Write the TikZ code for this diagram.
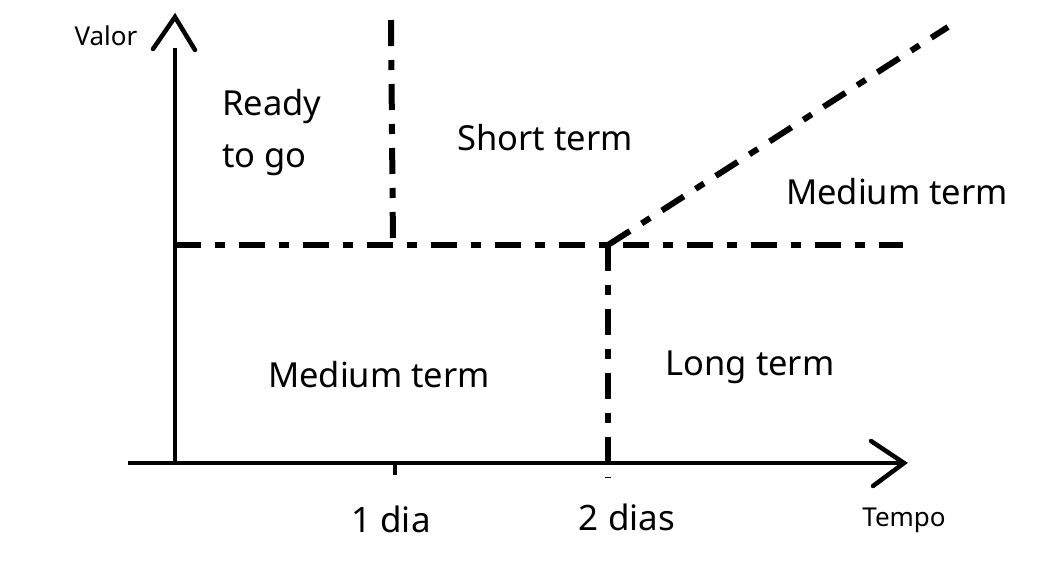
\documentclass[tikz,border=0pt]{standalone}
\usepackage{fontspec}
\setmainfont{Noto Sans}
\usepackage{tikz}
\usetikzlibrary{positioning,calc}
\tikzset{
  % akser
  akse/.style={draw=black,line width=4.5pt},
  pil/.style={draw=black,line width=4.5pt,line cap=round,line join=miter},
  % grenser
  grense/.style={draw=black,line width=6pt,dash pattern=on 26pt off 14pt on 10pt off 14pt},
  felt/.style={font=\fontsize{34.5}{52}\selectfont,inner sep=0pt,align=left},
  merke/.style={font=\fontsize{26}{30}\selectfont,inner sep=0pt},
  tall/.style={font=\fontsize{35}{40}\selectfont,inner sep=0pt},
}
\begin{document}
\begin{tikzpicture}[x=1pt,y=-1pt]
  \useasboundingbox (0,0) rectangle (1040,568);
  % akser
  \coordinate (o)  at (175,463);
  \coordinate (yt) at (175,48);
  \coordinate (x0) at (128,463);
  \coordinate (xt) at (903,463);
  \draw[akse] (o) -- (yt);
  \draw[akse] (x0) -- (xt);
  \draw[pil] (153,49) -- (175,17) -- (195,50);
  \draw[pil] (871,441) -- (904,463) -- (873,486);
  \coordinate (d1) at (395,463);
  \draw[akse] (d1) -- ++(0,12);
  % grenser
  \coordinate (h0) at (175,245);
  \coordinate (h1) at (903,245);
  \coordinate (k)  at (608,245);
  \coordinate (v1) at (391,20);
  \coordinate (v1b) at (393,245);
  \coordinate (v2) at (608,478);
  \coordinate (sk) at (948,27);
  \draw[grense] (h0) -- (h1);
  \draw[grense] (v1) -- (v1b);
  \draw[grense] (k) -- (v2);
  \draw[grense] (k) -- (sk);
  % tekst
  \node[felt,anchor=north west] (ready) at (222,89) {Ready\\to go};
  \node[felt] (short) at (545,138) {Short term};
  \node[felt] (medo) at (897,192) {Medium term};
  \node[felt] (medn) at (379,375) {Medium term};
  \node[felt] (long) at (750,367) {Long term};
  \node[tall] (en) at (391,519) {1 dia};
  \node[tall] (to) at (627,517) {2 dias};
  \node[merke] (valor) at (106,36) {Valor};
  \node[merke] (tempo) at (904,520) {Tempo};
\end{tikzpicture}
\end{document}
